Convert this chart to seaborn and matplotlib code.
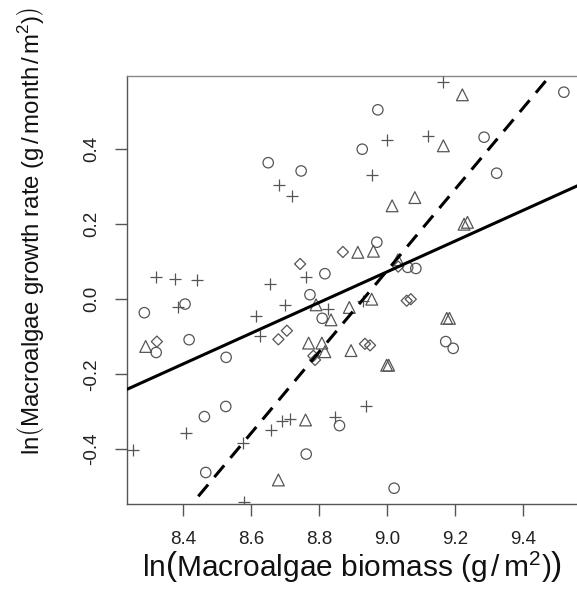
import numpy as np
import pandas as pd
import matplotlib
matplotlib.use("Agg")
import matplotlib.pyplot as plt
import seaborn as sns

# Site groups: biomass (x) and growth rate (y), both natural-log transformed
circle_x = [8.650, 8.747, 8.817, 8.773, 8.405, 8.285, 8.809, 8.320, 8.417, 8.526,
            8.525, 8.462, 8.860, 8.762, 8.466, 9.173, 9.195, 9.021, 9.521, 8.973,
            8.927, 9.286, 9.323, 8.970, 9.061, 9.085]
circle_y = [0.364, 0.342, 0.068, 0.012, -0.013, -0.036, -0.051, -0.142, -0.108, -0.155,
            -0.286, -0.313, -0.337, -0.413, -0.462, -0.113, -0.131, -0.504, 0.552, 0.505,
            0.400, 0.432, 0.336, 0.152, 0.085, 0.082]

plus_x = [8.681, 8.720, 8.319, 8.376, 8.441, 8.656, 8.761, 8.385, 8.614, 8.700,
          8.825, 8.626, 8.407, 8.253, 8.575, 8.657, 8.690, 8.714, 8.847, 8.580,
          8.930, 8.938, 9.164, 9.001, 9.122, 8.957]
plus_y = [0.304, 0.276, 0.060, 0.055, 0.051, 0.041, 0.058, -0.020, -0.044, -0.016,
          -0.027, -0.097, -0.356, -0.402, -0.384, -0.349, -0.326, -0.320, -0.313, -0.542,
          -0.004, -0.285, 0.580, 0.425, 0.434, 0.331]

tri_x = [8.791, 8.835, 8.289, 8.769, 8.808, 8.817, 8.760, 8.680, 8.955, 8.889,
         9.176, 9.184, 8.894, 8.999, 9.005, 9.222, 9.166, 9.082, 9.015, 9.227,
         9.237, 8.914, 8.960, 9.032]
tri_y = [-0.015, -0.055, -0.126, -0.117, -0.117, -0.140, -0.322, -0.482, 0.000, -0.022,
         -0.051, -0.051, -0.137, -0.176, -0.176, 0.545, 0.409, 0.271, 0.249, 0.200,
         0.205, 0.125, 0.128, 0.105]

diam_x = [8.744, 8.870, 8.322, 8.680, 8.705, 8.783, 8.788, 9.058, 9.070, 8.935,
          8.950, 9.033]
diam_y = [0.094, 0.126, -0.113, -0.107, -0.084, -0.151, -0.162, -0.004, 0.000, -0.119,
          -0.123, 0.087]

# Fitted regression lines: intercept, slope
solid_coef = [-3.608, 0.409]
dashed_coef = [-9.662, 1.082]
dashed_start = 8.444

x_ticks = [8.4, 8.6, 8.8, 9.0, 9.2, 9.4]
y_ticks = [-0.4, -0.2, 0.0, 0.2, 0.4]
x_lim = (8.234, 9.60)
y_lim = (-0.546, 0.596)

sns.set_theme(style="ticks")
plt.rcParams["font.family"] = ["Liberation Sans", "DejaVu Sans"]
plt.rcParams["mathtext.fontset"] = "custom"
plt.rcParams["mathtext.rm"] = "Liberation Sans"
plt.rcParams["mathtext.it"] = "Liberation Sans"
plt.rcParams["mathtext.bf"] = "Liberation Sans:bold"

fig = plt.figure(figsize=(5.77, 5.96), dpi=100)
ax = fig.add_axes([0.2201, 0.1544, 0.8036, 0.7186])

pt_col = "#555555"
groups = [
    (circle_x, circle_y, "o", 56),
    (tri_x, tri_y, "^", 72),
    (diam_x, diam_y, "D", 32),
]
for gx, gy, m, s in groups:
    sns.scatterplot(x=gx, y=gy, marker=m, s=s, color=pt_col,
                    facecolors="none", edgecolor=pt_col, linewidth=0.9,
                    ax=ax, zorder=3)
sns.scatterplot(x=plus_x, y=plus_y, marker="+", s=80, color=pt_col,
                linewidth=0.9, ax=ax, zorder=3)

# Regression lines
xs_full = np.array([x_lim[0], x_lim[1]])
sns.lineplot(x=xs_full, y=solid_coef[0] + solid_coef[1] * xs_full,
             color="black", linewidth=2.2, ax=ax, zorder=4)
xs_d = np.array([dashed_start, x_lim[1]])
sns.lineplot(x=xs_d, y=dashed_coef[0] + dashed_coef[1] * xs_d,
             color="black", linewidth=2.2, ax=ax, zorder=4)
ax.lines[-1].set_dashes([5.0, 3.2])

ax.set_xlim(*x_lim)
ax.set_ylim(*y_lim)
ax.set_xticks(x_ticks)
ax.set_yticks(y_ticks)
ax.set_xticklabels([f"{v:.1f}" for v in x_ticks])
ax.set_yticklabels([f"{v:.1f}" for v in y_ticks], rotation=90, va="center")

for sp in ax.spines.values():
    sp.set_color("#555555")
    sp.set_linewidth(1.0)
ax.spines["top"].set_color("#888888")

ax.tick_params(axis="both", direction="out", length=8.5, width=1.0,
               color="#555555", labelsize=13.5, labelcolor="#222222", pad=11)

ax.set_xlabel(r"$\mathrm{ln}\left(\mathrm{Macroalgae\ biomass\ }(\mathrm{g}\,/\,\mathrm{m}^{2})\right)$",
              fontsize=21.5, color="#111111")
ax.set_ylabel(r"$\mathrm{ln}\left(\mathrm{Macroalgae\ growth\ rate\ }(\mathrm{g}\,/\,\mathrm{month}\,/\,\mathrm{m}^{2})\right)$",
              fontsize=17.3, color="#111111")
ax.xaxis.set_label_coords(0.486, -0.108)
ax.yaxis.set_label_coords(-0.175, 0.637)

fig.savefig("out.png", dpi=100, facecolor="white")
